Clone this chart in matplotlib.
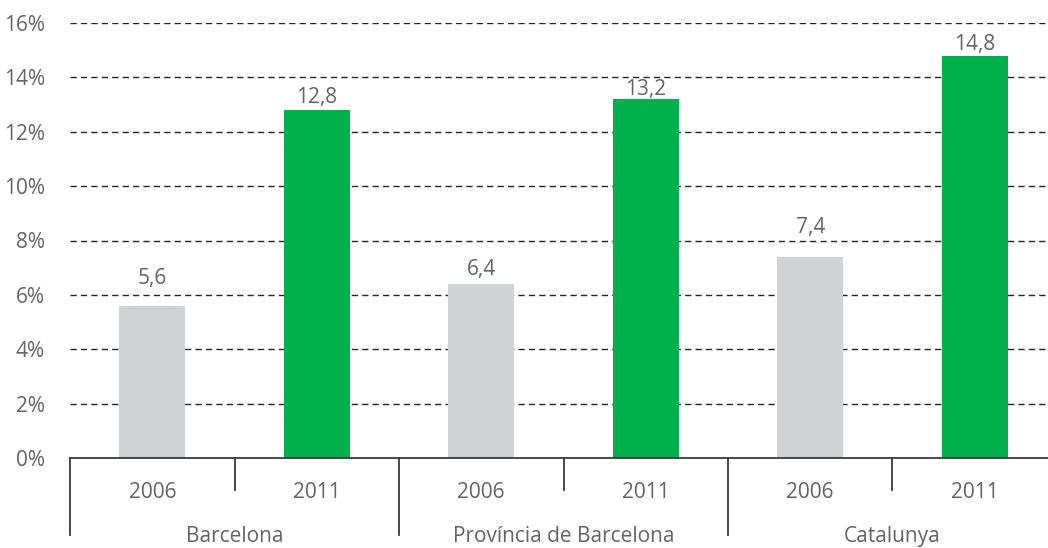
import matplotlib
matplotlib.use('Agg')
import matplotlib.pyplot as plt
import matplotlib.transforms as mtransforms

regions = ['Barcelona', 'Província de Barcelona', 'Catalunya']
years = ['2006', '2011']
values_2006 = [5.6, 6.4, 7.4]
values_2011 = [12.8, 13.2, 14.8]
y_ticks = [0, 2, 4, 6, 8, 10, 12, 14, 16]

GRAY_BAR = '#d1d2d4'
GREEN_BAR = '#00b04c'
TEXT = '#636363'
LINE = '#3a3a3a'
FS = 15

# baseline gap above each bar (pixels), labels sit clear of the dashed grid
label_gap = {(0, 0): 22, (0, 1): 7, (1, 0): 9, (1, 1): 4, (2, 0): 24, (2, 1): 6}

plt.rcParams['font.family'] = ['Open Sans', 'DejaVu Sans']

W, H = 1048, 548
fig = plt.figure(figsize=(W / 100, H / 100), dpi=100)
slot_px = 164.5
ax_left, ax_bottom, ax_top = 70, 90, 525
ax = fig.add_axes([ax_left / W, ax_bottom / H, (W - ax_left) / W, (ax_top - ax_bottom) / H])
ax.set_xlim(-0.5, -0.5 + (W - ax_left) / slot_px)
ax.set_ylim(0, 16)

# bars: two slots per region
for i, (v06, v11) in enumerate(zip(values_2006, values_2011)):
    for j, (v, c) in enumerate([(v06, GRAY_BAR), (v11, GREEN_BAR)]):
        x = 2 * i + j
        ax.bar(x, v, width=0.4, color=c, zorder=2)
        ax.annotate(f'{v:.1f}'.replace('.', ','), (x, v), xytext=(0, label_gap[(i, j)]),
                    textcoords='offset pixels', ha='center', va='baseline',
                    fontsize=FS, color=TEXT)

# grid
for t in y_ticks[1:]:
    ax.axhline(t, color='#222222', lw=1.0, ls=(0, (4.5, 3)), zorder=1)

ax.set_yticks(y_ticks)
ax.set_yticklabels([f'{t}%' for t in y_ticks], fontsize=FS, color=TEXT)
ax.tick_params(axis='y', length=0, pad=18)
ax.set_xticks([])
for s in ('top', 'right', 'left'):
    ax.spines[s].set_visible(False)
ax.spines['bottom'].set_color(LINE)
ax.spines['bottom'].set_linewidth(1.3)

# multi-level x axis
trans = mtransforms.blended_transform_factory(ax.transData, ax.transAxes)
px = 1 / (ax_top - ax_bottom)
for i, reg in enumerate(regions):
    left = 2 * i - 0.5
    ax.plot([left, left], [0, -77 * px], color=LINE, lw=1.3, transform=trans, clip_on=False)
    ax.plot([left + 1, left + 1], [0, -32 * px], color=LINE, lw=1.3, transform=trans, clip_on=False)
    for j, yr in enumerate(years):
        ax.text(2 * i + j, -40 * px, yr, transform=trans, ha='center', va='baseline',
                fontsize=FS, color=TEXT)
    ax.text(2 * i + 0.5, -84 * px, reg, transform=trans, ha='center', va='baseline',
            fontsize=FS, color=TEXT)

fig.savefig('out.png', dpi=100)
